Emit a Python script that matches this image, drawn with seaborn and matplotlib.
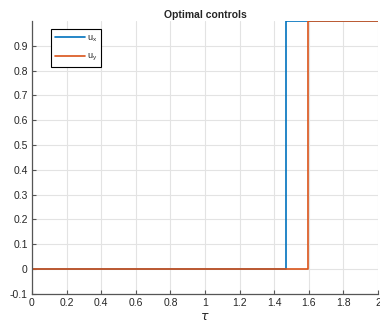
import matplotlib
matplotlib.use("Agg")
import matplotlib.pyplot as plt
import seaborn as sns
import pandas as pd

# switching data (step controls)
tau_x = [0.0, 1.47, 1.47, 2.0]
u_x = [0.0, 0.0, 1.0, 1.0]
tau_y = [0.0, 1.595, 1.595, 2.0]
u_y = [0.0, 0.0, 1.0, 1.0]

x_ticks = [0, 0.2, 0.4, 0.6, 0.8, 1, 1.2, 1.4, 1.6, 1.8, 2]
x_labels = ["0", "0.2", "0.4", "0.6", "0.8", "1", "1.2", "1.4", "1.6", "1.8", "2"]
y_ticks = [-0.1, 0, 0.1, 0.2, 0.3, 0.4, 0.5, 0.6, 0.7, 0.8, 0.9]
y_labels = ["-0.1", "0", "0.1", "0.2", "0.3", "0.4", "0.5", "0.6", "0.7", "0.8", "0.9"]

df = pd.concat([
    pd.DataFrame({"tau": tau_x, "u": u_x, "ctrl": "$\\mathregular{u_x}$"}),
    pd.DataFrame({"tau": tau_y, "u": u_y, "ctrl": "$\\mathregular{u_y}$"}),
])

sns.set_style("whitegrid")
plt.rcParams['font.family'] = ['Liberation Sans', 'DejaVu Sans']

fig = plt.figure(figsize = (3.8, 3.34), dpi = 100)
ax = fig.add_axes([0.084, 0.12, 0.911, 0.817])
sns.lineplot(data = df, x = "tau", y = "u", hue = "ctrl", palette = ["#0072BD", "#D95319"],
             sort = False, estimator = None, linewidth = 1.2, ax = ax)

ax.set_xlim(0, 2)
ax.set_ylim(-0.1, 1.0)
ax.set_xticks(x_ticks)
ax.set_xticklabels(x_labels, fontsize = 7.5)
ax.set_yticks(y_ticks)
ax.set_yticklabels(y_labels, fontsize = 7.5)
ax.tick_params(direction = "in", length = 3, width = 0.8, color = "#555555", left = True, bottom = True, pad = 3)
ax.grid(True, color = "#e3e3e3", linewidth = 0.8)
for side in ["top", "right"]:
    ax.spines[side].set_visible(False)
for side in ["left", "bottom"]:
    ax.spines[side].set_color("#555555")
    ax.spines[side].set_linewidth(0.9)

ax.set_title("Optimal controls", fontsize = 7.5, fontweight = "bold", pad = 2)
ax.set_xlabel("$\\tau$", fontsize = 9, labelpad = 2)
ax.set_ylabel("")

leg = ax.legend(loc = "upper left", bbox_to_anchor = (0.055, 0.97), borderaxespad = 0, fontsize = 6.5,
                frameon = True, fancybox = False, edgecolor = "black", framealpha = 1, handlelength = 3.3,
                handletextpad = 0.2, borderpad = 0.45, labelspacing = 0.9)
leg.get_frame().set_linewidth(0.8)

fig.savefig("out.png", dpi = 100)
